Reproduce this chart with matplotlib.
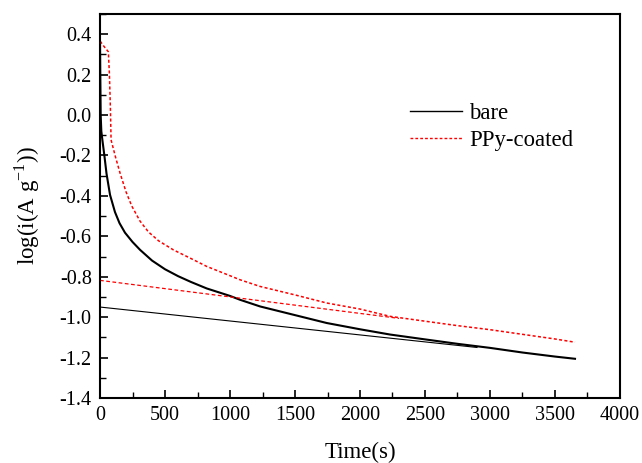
import matplotlib
matplotlib.use("Agg")
import matplotlib.pyplot as plt
from matplotlib.lines import Line2D
from matplotlib.ticker import MultipleLocator

# --- data ---
t_bare = [0, 2, 5, 10, 18, 33, 50, 77, 115, 150, 192, 250, 308, 400, 500,
          600, 700, 821, 1000, 1077, 1231, 1500, 1744, 2000, 2231, 2500,
          2750, 3000, 3250, 3500, 3654]
i_bare = [0.36, 0.20, 0.00, -0.08, -0.123, -0.198, -0.29, -0.395, -0.48,
          -0.535, -0.582, -0.628, -0.667, -0.72, -0.763, -0.797, -0.826,
          -0.858, -0.895, -0.914, -0.947, -0.99, -1.029, -1.06, -1.086,
          -1.11, -1.132, -1.152, -1.175, -1.195, -1.206]

t_ppy = [0, 5, 30, 64, 72, 80, 85, 120, 154, 200, 244, 308, 372, 450, 564,
         700, 821, 1000, 1077, 1231, 1500, 1744, 2000, 2231, 2500, 2750,
         3000, 3250, 3500, 3654]
i_ppy = [0.365, 0.362, 0.34, 0.313, 0.206, 0.03, -0.123, -0.21, -0.287,
         -0.38, -0.45, -0.525, -0.578, -0.622, -0.667, -0.71, -0.749, -0.795,
         -0.815, -0.848, -0.89, -0.93, -0.96, -0.996, -1.02, -1.042, -1.062,
         -1.085, -1.108, -1.124]

# linear fits drawn under the curves
fit_bare_t = [0, 2900]
fit_bare_i = [-0.95, -1.15]
fit_ppy_t = [0, 2300]
fit_ppy_i = [-0.818, -1.006]

plt.rcParams["font.family"] = ["Liberation Serif", "DejaVu Serif"]
plt.rcParams["mathtext.fontset"] = "custom"
plt.rcParams["mathtext.rm"] = "Liberation Serif"
plt.rcParams["axes.unicode_minus"] = False

fig = plt.figure(figsize=(6.42, 4.63), dpi=100)
ax = fig.add_axes([0.1558, 0.1404, 0.8099, 0.8294])

ax.plot(t_bare, i_bare, color="black", lw=1.5)
ax.plot(t_ppy, i_ppy, color="red", lw=1.1, linestyle=(0, (2, 1.5)))
ax.plot(fit_bare_t, fit_bare_i, color="black", lw=0.8)
ax.plot(fit_ppy_t, fit_ppy_i, color="red", lw=0.9, linestyle=(0, (3, 2)))

ax.set_xlim(0, 4000)
ax.set_ylim(-1.4, 0.5)
ax.xaxis.set_major_locator(MultipleLocator(500))
ax.xaxis.set_minor_locator(MultipleLocator(250))
ax.yaxis.set_major_locator(MultipleLocator(0.2))
ax.yaxis.set_minor_locator(MultipleLocator(0.1))
ax.tick_params(which="both", direction="in", top=False, right=False,
               labelsize=14.5, pad=6)
ax.tick_params(which="major", length=6, width=1.2)
ax.tick_params(which="minor", length=4, width=1.0)
ax.set_yticks([-1.4, -1.2, -1.0, -0.8, -0.6, -0.4, -0.2, 0.0, 0.2, 0.4])
ax.set_yticklabels(["-1.4", "-1.2", "-1.0", "-0.8", "-0.6", "-0.4", "-0.2",
                    "0.0", "0.2", "0.4"])
for s in ax.spines.values():
    s.set_linewidth(1.5)

ax.set_xlabel("Time(s)", fontsize=16.5, labelpad=12)
ax.set_ylabel(r"log(i(A g$^{-1}$))", fontsize=16.5, labelpad=13)

handles = [Line2D([], [], color="black", lw=1.0),
           Line2D([], [], color="red", lw=1.0, linestyle=(0, (2, 1.5)))]
ax.legend(handles, ["bare", "PPy-coated"], loc="upper left",
          bbox_to_anchor=(0.578, 0.792), frameon=False,
          fontsize=16.4, handlelength=2.3, handletextpad=0.3,
          labelspacing=0.25, borderaxespad=0.0)

fig.savefig("out.png", dpi=100)
